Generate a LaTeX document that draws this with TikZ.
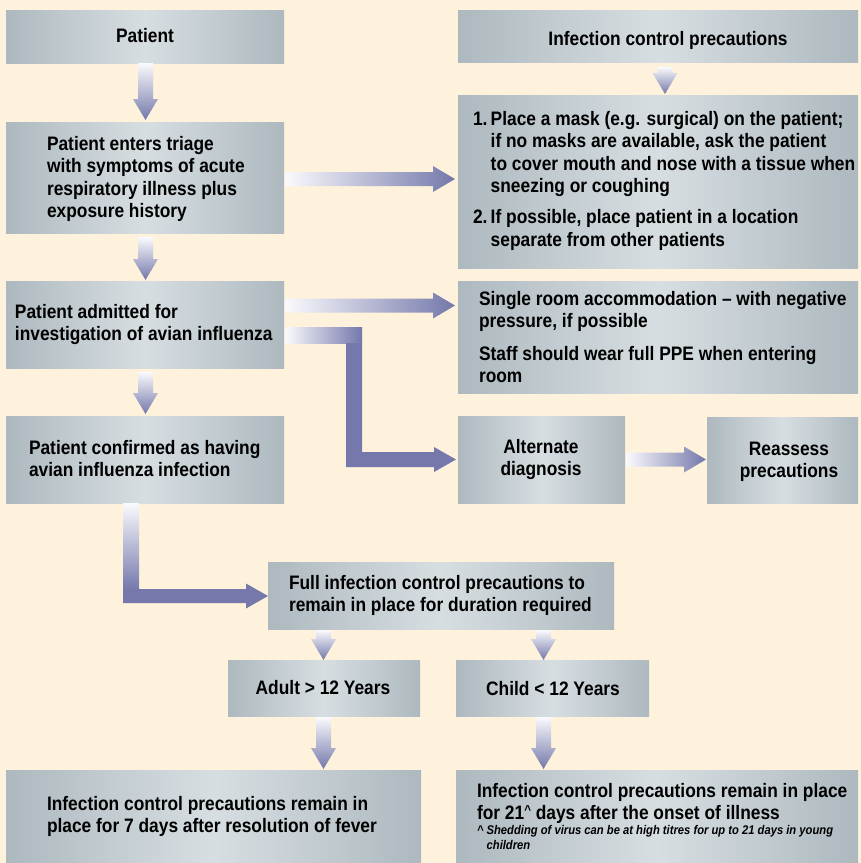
\documentclass[tikz,border=0pt]{standalone}
\usepackage{fontspec}
\setmainfont{Liberation Sans}[FakeStretch=0.89]
\usetikzlibrary{calc}
\definecolor{bgcream}{HTML}{FFF2DC}
\definecolor{boxdark}{HTML}{ADB9BF}
\definecolor{boxlight}{HTML}{D7DEE2}
\definecolor{arrpurple}{HTML}{7478AA}
\definecolor{arrlight}{HTML}{FAFAFD}
\tikzset{
  box/.style={anchor=north west, inner sep=0pt, outer sep=0pt, draw=none,
    left color=boxdark, right color=boxdark, middle color=boxlight},
  lbl/.style={inner sep=0pt, outer sep=0pt, text=black, align=left,
    font=\fontsize{19.5}{22.5}\selectfont\bfseries},
  clbl/.style={lbl, align=center, anchor=north},
  llbl/.style={lbl, anchor=north west},
  fnote/.style={inner sep=0pt, outer sep=0pt, text=black, align=left, anchor=north west,
    font=\fontsize{12.6}{14.8}\selectfont\bfseries\itshape},
  vgrad/.style={top color=arrlight, bottom color=arrpurple, draw=none},
  hgrad/.style={left color=arrlight, right color=arrpurple, draw=none},
  solidarr/.style={fill=arrpurple, draw=none}
}
\newcommand\vblock[2]{%
  \path[vgrad] let \p1=(#1), \p2=(#2) in
    (\x1-7.5pt,\y1) -- (\x1+7.5pt,\y1) -- (\x1+7.5pt,\y2+21pt) -- (\x1+12.5pt,\y2+21pt)
    -- (\x1,\y2) -- (\x1-12.5pt,\y2+21pt) -- (\x1-7.5pt,\y2+21pt) -- cycle;}
\newcommand\hblock[2]{%
  \path[hgrad] let \p1=(#1), \p2=(#2) in
    (\x1,\y1+7pt) -- (\x2-22pt,\y1+7pt) -- (\x2-22pt,\y1+13pt) -- (\x2,\y1)
    -- (\x2-22pt,\y1-13pt) -- (\x2-22pt,\y1-7pt) -- (\x1,\y1-7pt) -- cycle;}
\begin{document}
\begin{tikzpicture}[x=1pt,y=-1pt]
\useasboundingbox (0,0) rectangle (861,863);
\fill[bgcream] (0,0) rectangle (861,863);

% boxes
\node[box, minimum width=278pt, minimum height=53pt]  (patient)   at (6,10)    {};
\node[box, minimum width=400pt, minimum height=52pt]  (icp)       at (458,10)  {};
\node[box, minimum width=278pt, minimum height=111pt] (triage)    at (6,122)   {};
\node[box, minimum width=400pt, minimum height=173pt] (bigbox)    at (458,95)  {};
\node[box, minimum width=278pt, minimum height=87pt]  (admitted)  at (6,281)   {};
\node[box, minimum width=400pt, minimum height=112pt] (single)    at (458,281) {};
\node[box, minimum width=278pt, minimum height=87pt]  (confirmed) at (6,416)   {};
\node[box, minimum width=167pt, minimum height=87pt]  (alternate) at (458,416) {};
\node[box, minimum width=151pt, minimum height=86pt]  (reassess)  at (707,417) {};
\node[box, minimum width=346pt, minimum height=67pt]  (full)      at (268,562) {};
\node[box, minimum width=192pt, minimum height=56pt]  (adult)     at (228,660) {};
\node[box, minimum width=193pt, minimum height=56pt]  (child)     at (456,660) {};
\node[box, minimum width=415pt, minimum height=93pt]  (bl)        at (6,770)   {};
\node[box, minimum width=402pt, minimum height=93pt]  (br)        at (456,770) {};

% texts
\node[clbl] (tpatient) at (145,28.5) {Patient};
\node[clbl] (ticp) at (668,31) {Infection control precautions};
\node[llbl] (ttriage) at (47,136) {Patient enters triage\\with symptoms of acute\\respiratory illness plus\\exposure history};
\node[llbl] (tbig) at (473,111) {1.\,Place a mask (e.g. surgical) on the patient;\\
\phantom{1.\,}if no masks are available, ask the patient\\
\phantom{1.\,}to cover mouth and nose with a tissue when\\
\phantom{1.\,}sneezing or coughing\\[8.5pt]
2.\,If possible, place patient in a location\\
\phantom{2.\,}separate from other patients};
\node[llbl] (tadmitted) at (15,304) {Patient admitted for\\investigation of avian influenza};
\node[llbl] (tsingle) at (479,291) {Single room accommodation \textendash{} with negative\\pressure, if possible\\[10pt]Staff should wear full PPE when entering\\room};
\node[llbl] (tconfirmed) at (29,440) {Patient confirmed as having\\avian influenza infection};
\node[clbl] (talternate) at (541,439) {Alternate\\diagnosis};
\node[clbl] (treassess) at (789,442) {Reassess\\precautions};
\node[llbl] (tfull) at (289,575) {Full infection control precautions to\\remain in place for duration required};
\node[clbl] (tadult) at (323,680) {Adult > 12 Years};
\node[clbl] (tchild) at (553,681) {Child < 12 Years};
\node[llbl] (tbl) at (47,796) {Infection control precautions remain in\\place for 7 days after resolution of fever};
\node[llbl] (tbr) at (477,783) {Infection control precautions remain in place\\for 21\raisebox{5pt}{\fontsize{13}{13}\selectfont\textasciicircum} days after the onset of illness};
\node[fnote] (tfn) at (477,825.5) {\textasciicircum{} Shedding of virus can be at high titres for up to 21 days in young\\\phantom{\textasciicircum{}\ }children};

% vertical block arrows
\coordinate (a1s) at ($(patient.south)+(0.5,0)$);
\vblock{a1s}{$(a1s |- triage.north)+(0,-2)$}
\coordinate (a2s) at ($(triage.south)+(0.5,4)$);
\vblock{a2s}{$(a2s |- admitted.north)+(0,-1)$}
\coordinate (a3s) at ($(admitted.south)+(0.5,4)$);
\vblock{a3s}{$(a3s |- confirmed.north)+(0,-2)$}
\coordinate (a4s) at ($(icp.south)+(7,5)$);
\vblock{a4s}{$(a4s |- bigbox.north)+(0,-1)$}
\coordinate (a5s) at ($(adult.north |- full.south)+(-0.5,1)$);
\vblock{a5s}{$(adult.north)+(-0.5,0)$}
\coordinate (a6s) at ($(child.north |- full.south)+(-9,1)$);
\vblock{a6s}{$(child.north)+(-9,0)$}
\coordinate (a7s) at ($(adult.south)+(-0.5,1)$);
\vblock{a7s}{$(a7s |- bl.north)+(0,-1)$}
\coordinate (a8s) at ($(child.south)+(-9,1)$);
\vblock{a8s}{$(a8s |- br.north)+(0,-1)$}

% horizontal block arrows
\coordinate (h1s) at ($(triage.east)+(1,1.5)$);
\hblock{h1s}{$(bigbox.west |- h1s)+(-3,0)$}
\coordinate (h2s) at ($(admitted.east)+(1,-19)$);
\hblock{h2s}{$(single.west |- h2s)+(-3,0)$}
\coordinate (h3s) at ($(alternate.east)+(1,0)$);
\hblock{h3s}{$(reassess.west |- h3s)+(-1,0)$}

% elbow: admitted -> alternate
\fill[hgrad] ($(admitted.east)+(1,2.5)$) rectangle ($(admitted.east)+(78,18.5)$);
\coordinate (e1c) at ($(admitted.east)+(62,18.5)$);
\path[solidarr] let \p1=(e1c), \p2=($(alternate.west)+(-2,0)$) in
  (\x1,\y1) -- (\x1+16pt,\y1) -- (\x1+16pt,\y2+7.5pt) -- (\x2-22pt,\y2+7.5pt)
  -- (\x2-22pt,\y2+12.5pt) -- (\x2,\y2) -- (\x2-22pt,\y2-12.5pt) -- (\x2-22pt,\y2-7.5pt)
  -- (\x1,\y2-7.5pt) -- cycle;

% elbow: confirmed -> full
\fill[vgrad] ($(confirmed.south)+(-22,0)$) rectangle ($(confirmed.south)+(-6,87)$);
\path[solidarr] let \p1=($(confirmed.south)+(-22,0)$), \p2=($(full.west)+(0,0.5)$) in
  (\x1,\y2+7pt) -- (\x2-22pt,\y2+7pt) -- (\x2-22pt,\y2+12.5pt) -- (\x2,\y2)
  -- (\x2-22pt,\y2-12.5pt) -- (\x2-22pt,\y2-7pt) -- (\x1,\y2-7pt) -- cycle;
\end{tikzpicture}
\end{document}
